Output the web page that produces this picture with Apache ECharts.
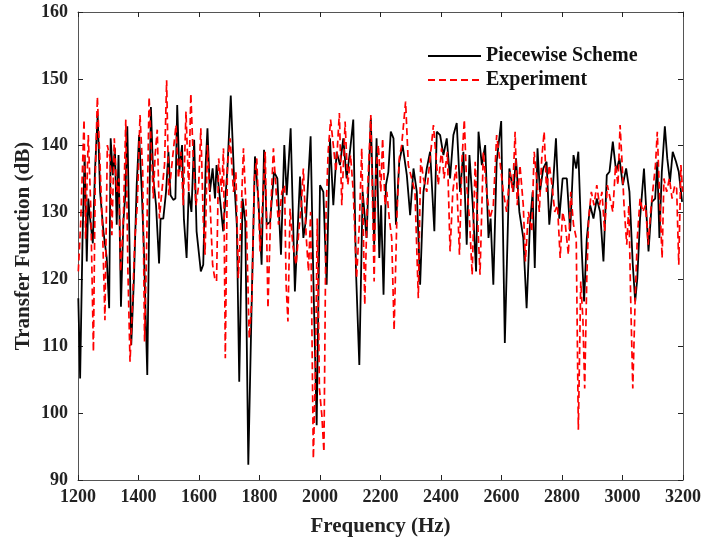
<!DOCTYPE html>
<html>
<head>
<meta charset="utf-8">
<script src="https://cdn.jsdelivr.net/npm/echarts@6/dist/echarts.min.js"></script>
<style>html,body{margin:0;padding:0;background:#fff}#c{width:704px;height:542px}</style>
</head>
<body>
<div id="c"></div>
<script>
const xTicks = [1200,1400,1600,1800,2000,2200,2400,2600,2800,3000,3200];
const yTicks = [90,100,110,120,130,140,150,160];

const pieceF = [1201,1207,1215,1222,1229,1234,1240,1249,1256,1265,1273,1284,1295,1303,1308,1315,1322,1328,1334,1342,1350,1357,1363,1370,1376,1385,1394,1402,1411,1418,1429,1436,1441,1449,1458,1468,1473,1482,1491,1499,1506,1515,1522,1528,1535,1544,1550,1559,1566,1575,1584,1592,1606,1614,1622,1628,1636,1645,1653,1658,1667,1680,1694,1705,1716,1725,1733,1744,1753,1763,1774,1785,1796,1807,1815,1824,1835,1848,1859,1871,1882,1890,1903,1917,1934,1945,1954,1969,1978,1989,2000,2011,2022,2033,2044,2055,2066,2077,2088,2099,2110,2119,2130,2141,2154,2168,2179,2187,2196,2202,2210,2218,2226,2234,2243,2251,2262,2273,2287,2298,2309,2320,2331,2342,2353,2364,2378,2386,2397,2408,2419,2430,2441,2452,2463,2474,2485,2494,2505,2516,2524,2535,2546,2557,2564,2573,2584,2599,2611,2626,2639,2648,2659,2672,2683,2694,2703,2710,2719,2727,2738,2749,2758,2771,2780,2791,2802,2816,2827,2838,2847,2854,2865,2873,2882,2893,2904,2915,2926,2937,2948,2957,2968,2979,2990,3001,3012,3023,3034,3042,3049,3058,3071,3086,3097,3108,3115,3122,3130,3140,3148,3157,3166,3177,3186,3197];
const pieceV = [117.2,105.2,126.1,138.6,122.7,132.1,129.1,125.4,136.1,144.6,133.1,127.2,123.2,115.7,141.1,135.6,139.6,128.2,138.6,115.9,128.6,133.1,142.9,126.1,110.2,120.2,134.1,141.6,133.1,124.2,105.7,131.1,145.8,135.1,131.1,122.4,129.1,129.1,133.1,139.1,132.6,131.9,132.1,146.1,136.1,140.1,129.1,123.2,133.1,130.1,140.9,127.2,121.2,122.2,137.1,142.6,133.1,136.6,132.1,137.1,133.1,127.2,136.6,147.5,135.1,128.2,104.7,132.1,128.6,92.3,116.2,138.4,132.1,122.2,139.4,128.2,128.6,136.1,135.1,123.7,140.1,132.6,142.6,118.2,135.4,126.2,129.1,141.4,120.2,98.2,134.1,133.1,119.2,141.1,131.1,139.1,137.1,141.1,135.1,139.1,143.9,121.2,107.2,133.1,126.2,144.1,125.2,141.1,123.2,131.1,117.7,134.1,136.1,142.1,141.1,128.2,137.6,140.1,135.6,129.6,136.6,133.1,119.2,133.1,136.6,139.1,127.2,142.1,141.6,138.6,141.1,135.1,141.6,143.4,133.1,139.1,125.2,138.6,131.1,121.2,142.1,137.1,140.1,126.2,129.1,119.2,137.6,143.7,110.5,136.6,133.1,138.1,130.1,126.2,115.7,128.2,133.1,121.7,139.6,133.1,136.6,137.6,128.2,134.6,141.1,129.1,135.1,135.1,127.2,138.6,136.6,139.1,124.7,116.7,126.2,131.1,129.1,132.1,130.1,122.7,135.6,136.1,140.6,136.1,138.1,134.1,136.6,133.1,122.2,116.7,120.2,129.1,136.6,124.2,131.6,132.1,137.6,126.2,136.1,142.9,138.1,134.6,139.1,137.6,136.1,131.6];

const expF = [1201,1209,1220,1225,1234,1242,1251,1257,1264,1273,1282,1289,1297,1306,1312,1320,1328,1335,1341,1350,1358,1365,1372,1380,1388,1396,1405,1414,1420,1427,1435,1442,1449,1455,1462,1469,1477,1486,1493,1500,1508,1517,1524,1532,1540,1548,1557,1566,1573,1581,1590,1599,1606,1614,1620,1628,1636,1645,1652,1658,1665,1675,1681,1687,1694,1703,1714,1722,1730,1738,1747,1756,1766,1775,1783,1791,1802,1811,1819,1828,1837,1846,1855,1863,1874,1883,1888,1894,1901,1910,1921,1930,1938,1945,1954,1962,1969,1978,1985,1991,1998,2006,2013,2020,2027,2035,2044,2053,2064,2072,2083,2092,2101,2110,2121,2130,2138,2148,2157,2168,2179,2185,2193,2201,2207,2215,2221,2229,2237,2245,2254,2262,2270,2278,2283,2292,2303,2314,2325,2333,2342,2353,2364,2375,2384,2391,2402,2410,2421,2430,2439,2450,2461,2469,2477,2485,2494,2503,2513,2520,2529,2540,2551,2562,2573,2584,2595,2606,2617,2628,2637,2645,2652,2661,2672,2679,2689,2700,2708,2716,2725,2733,2741,2749,2758,2767,2776,2785,2794,2802,2811,2821,2829,2838,2847,2854,2862,2869,2875,2882,2888,2897,2906,2915,2924,2932,2941,2950,2959,2968,2977,2985,2992,2999,3005,3014,3021,3027,3034,3042,3049,3058,3067,3076,3085,3093,3102,3109,3115,3122,3131,3137,3146,3155,3164,3173,3179,3186,3193,3199];
const expV = [121.2,128.6,143.9,126.1,141.6,131.1,109.2,135.1,147.3,137.1,126.1,113.9,140.1,138.1,126.6,141.1,133.1,135.1,121.2,129.1,143.9,121.2,107.7,116.2,126.1,131.1,144.6,136.1,110.7,125.2,147.3,140.1,132.1,138.6,142.4,129.1,133.1,137.1,149.8,132.6,136.1,140.1,143.1,135.1,139.1,131.1,145.1,133.1,147.8,138.1,131.1,134.1,142.6,129.1,123.7,140.1,132.1,122.2,120.2,119.7,138.1,133.1,139.6,108.2,137.1,141.1,133.1,136.1,120.2,128.2,139.6,130.1,111.2,117.2,135.1,138.1,124.2,132.1,139.1,115.7,130.1,139.6,133.1,128.2,133.1,134.1,119.2,113.7,130.6,125.2,122.2,127.2,131.1,136.6,126.7,121.2,130.1,93.2,106.2,129.1,103.7,99.7,94.2,130.1,139.1,143.9,140.1,136.1,144.9,131.1,143.6,134.1,138.6,133.1,120.2,128.2,139.6,116.2,133.1,144.6,119.7,136.1,140.1,133.1,141.1,131.1,133.1,129.1,126.2,112.4,129.1,138.1,140.1,144.1,146.6,137.1,135.1,133.1,117.2,138.1,135.1,133.1,138.1,143.1,138.1,134.1,139.6,135.1,139.1,124.2,133.1,137.1,123.7,137.6,143.9,134.1,129.1,120.7,137.6,130.1,120.7,139.1,133.1,129.1,131.1,141.6,137.6,133.1,130.1,136.1,133.1,142.1,131.1,137.1,131.1,122.7,130.1,127.2,139.1,135.1,130.1,138.1,142.1,133.1,137.1,134.1,130.1,131.1,123.2,130.1,128.2,123.7,133.1,128.2,126.2,97.5,119.7,114.2,103.7,120.2,129.1,133.1,131.1,134.1,131.1,133.1,127.2,134.1,132.1,130.1,137.1,134.1,143.1,137.1,131.1,125.2,131.1,117.2,103.7,117.2,126.2,132.1,130.1,131.1,125.2,130.1,134.1,137.1,142.1,133.1,123.2,135.1,133.1,135.1,132.1,134.1,133.6,122.2,137.1,133.1];

const seriesNames = ['Piecewise Scheme', 'Experiment'];

function pairs(f, v) { return f.map((x, i) => [x, v[i]]); }

const FONT = "'Liberation Serif', 'Times New Roman', serif";
const axisColor = '#555';
const chart = echarts.init(document.getElementById('c'), null, {renderer: 'canvas'});

const baseX = {
  type: 'value', min: xTicks[0], max: xTicks[xTicks.length - 1], interval: 200,
  splitLine: {show: false},
  axisLine: {show: true, onZero: false, lineStyle: {color: axisColor, width: 1}},
  axisTick: {show: true, inside: true, length: 5, lineStyle: {color: '#222'}}
};
const baseY = {
  type: 'value', min: yTicks[0], max: yTicks[yTicks.length - 1], interval: 10,
  splitLine: {show: false},
  axisLine: {show: true, onZero: false, lineStyle: {color: axisColor, width: 1}},
  axisTick: {show: true, inside: true, length: 5, lineStyle: {color: '#222'}}
};

chart.setOption({
  animation: false,
  backgroundColor: '#fff',
  grid: {left: 78, right: 21, top: 12, bottom: 62, containLabel: false},
  legend: {
    orient: 'vertical', left: 422, top: 41, itemWidth: 53, itemHeight: 14, itemGap: 4,
    itemStyle: {opacity: 0, borderWidth: 0},
    textStyle: {fontFamily: FONT, fontWeight: 'bold', fontSize: 20, color: '#111'},
    data: seriesNames
  },
  xAxis: [
    Object.assign({}, baseX, {
      position: 'bottom',
      name: 'Frequency (Hz)', nameLocation: 'middle', nameGap: 36, nameMoveOverlap: false,
      nameTextStyle: {fontFamily: FONT, fontWeight: 'bold', fontSize: 21, color: '#222'},
      axisLabel: {show: true, margin: 8, fontFamily: FONT, fontWeight: 'bold', fontSize: 18, color: '#222',
        formatter: v => String(v)}
    }),
    Object.assign({}, baseX, {position: 'top', axisLabel: {show: false}})
  ],
  yAxis: [
    Object.assign({}, baseY, {
      position: 'left',
      name: 'Transfer Function (dB)', nameLocation: 'middle', nameGap: 44, nameMoveOverlap: false,
      nameTextStyle: {fontFamily: FONT, fontWeight: 'bold', fontSize: 21, color: '#222'},
      axisLabel: {show: true, margin: 10, fontFamily: FONT, fontWeight: 'bold', fontSize: 18, color: '#222',
        formatter: v => String(v)}
    }),
    Object.assign({}, baseY, {position: 'right', axisLabel: {show: false}})
  ],
  series: [
    {
      name: seriesNames[0], type: 'line', xAxisIndex: 0, yAxisIndex: 0,
      data: pairs(pieceF, pieceV), symbol: 'none', showSymbol: false,
      lineStyle: {color: '#000', width: 1.8}, itemStyle: {color: '#000'}, z: 2
    },
    {
      name: seriesNames[1], type: 'line', xAxisIndex: 0, yAxisIndex: 0,
      data: pairs(expF, expV), symbol: 'none', showSymbol: false,
      lineStyle: {color: '#ff0000', width: 1.7, type: [7, 4]}, itemStyle: {color: '#ff0000'}, z: 3
    }
  ]
});
</script>
</body>
</html>
